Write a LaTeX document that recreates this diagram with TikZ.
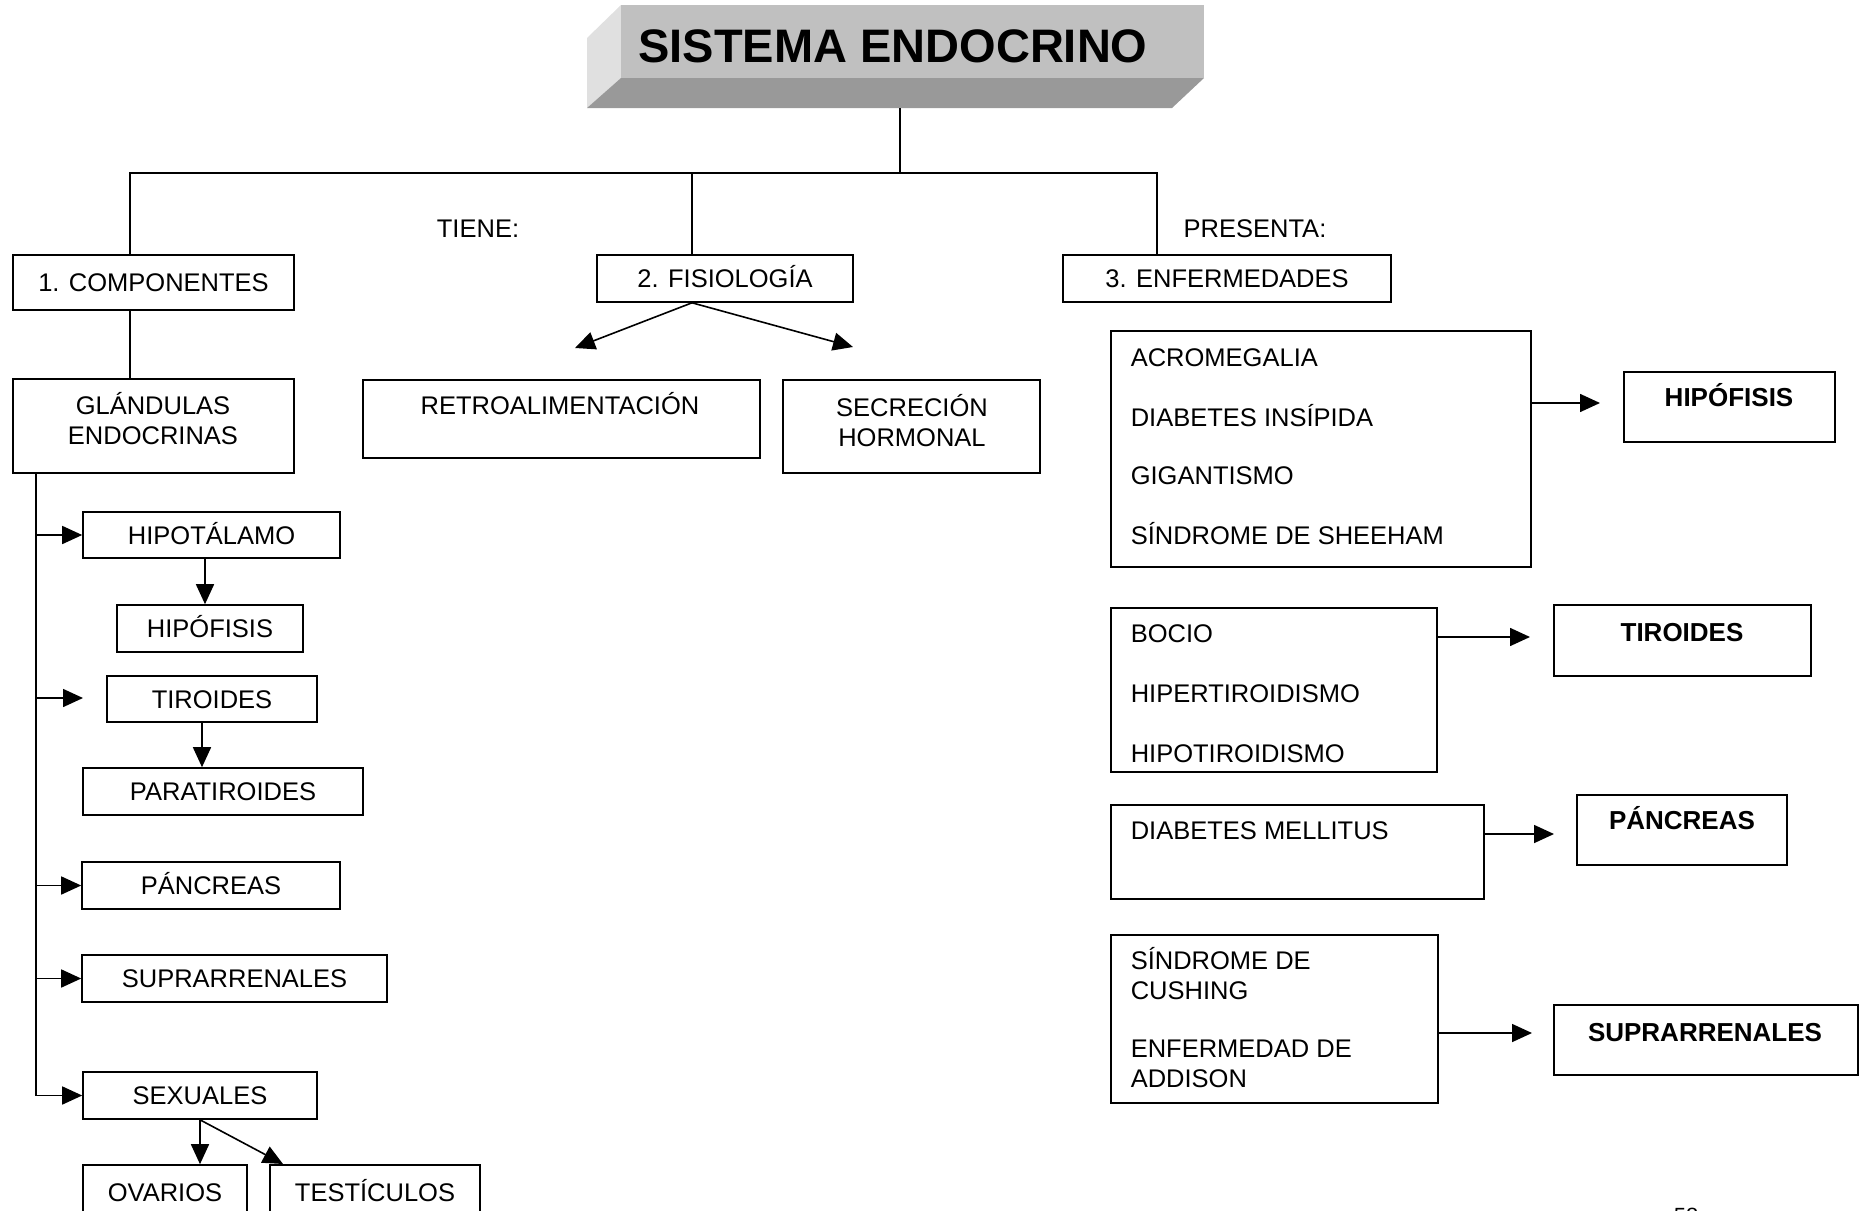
\documentclass[tikz,border=0pt]{standalone}
\usepackage{fontspec}
\setmainfont{Liberation Sans}
\usetikzlibrary{arrows.meta,fit}

\definecolor{faceFront}{HTML}{C0C0C0}
\definecolor{faceSide}{HTML}{E0E0E0}
\definecolor{faceBottom}{HTML}{999999}

% a framed box spanning two corners, with its label centred inside
\newcommand{\labelbox}[4]{%
  \node[box, fit={#2 #3}] (#1) {};
  \node[txt, anchor=base] (#1-t) at ([yshift=-4.5pt]#1.center) {#4};}

\begin{document}
\begin{tikzpicture}[x=0.5pt,y=-0.5pt,
  line width=0.8pt,
  txt/.style={inner sep=0pt, font=\fontsize{12.75}{15}\selectfont},
  boldtxt/.style={inner sep=0pt, font=\fontsize{13}{15}\selectfont\bfseries},
  box/.style={draw, line width=0.8pt, inner sep=0pt},
  arr/.style={-{Triangle[length=10pt,width=9pt]}},
]
\path[use as bounding box] (0,0) rectangle (1868,1210);
\clip (0,0) rectangle (1868,1210);

% ---------- title block (extruded bar) ----------
\fill[faceSide]   (621,5) -- (587,38) -- (587,108) -- (621,78) -- cycle;
\fill[faceBottom] (621,78) -- (1204,78) -- (1172,108) -- (587,108) -- cycle;
\node[fit={(621,5) (1204,78)}, inner sep=0pt, fill=faceFront] (title) {};
\node[inner sep=0pt, anchor=base, font=\fontsize{23.5}{28}\selectfont\bfseries]
  (titletxt) at (893,62) {SISTEMA ENDOCRINO};

% ---------- first level ----------
\labelbox{comp}{(13,255)}{(294,310)}{1. COMPONENTES}
\labelbox{fis}{(597,255)}{(853,302)}{2. FISIOLOGÍA}
\labelbox{enf}{(1063,255)}{(1391,302)}{3. ENFERMEDADES}
\node[txt, anchor=base] (tiene) at (478,237) {TIENE:};
\node[txt, anchor=base] (presenta) at (1255,237) {PRESENTA:};

\coordinate (tb) at (900,108);
\coordinate (j1) at (130,173);
\coordinate (j2) at (692,173);
\coordinate (j3) at (1157,173);
\draw (tb) -- (tb |- j1);
\draw (j1 |- comp.north) -- (j1) -- (j3) -- (j3 |- enf.north);
\draw (j2) -- (j2 |- fis.north);

% ---------- components ----------
\node[box, fit={(13,379) (294,473)}] (gland) {};
\node[txt, align=center] (glandtxt) at (153,419) {GLÁNDULAS\\ENDOCRINAS};
\draw (j1 |- comp.south) -- (j1 |- gland.north);

\labelbox{hipot}{(83,512)}{(340,558)}{HIPOTÁLAMO}
\labelbox{hipof}{(117,605)}{(303,652)}{HIPÓFISIS}
\labelbox{tir}{(107,676)}{(317,722)}{TIROIDES}
\labelbox{para}{(83,768)}{(363,815)}{PARATIROIDES}
\labelbox{panc}{(82,862)}{(340,909)}{PÁNCREAS}
\labelbox{supra}{(82,955)}{(387,1002)}{SUPRARRENALES}
\labelbox{sex}{(83,1072)}{(317,1119)}{SEXUALES}
\node[box, fit={(83,1165) (247,1218)}] (ovar) {};
\node[txt, anchor=base] (ovar-t) at (165,1201) {OVARIOS};
\node[box, fit={(270,1165) (480,1218)}] (test) {};
\node[txt, anchor=base] (test-t) at (375,1201) {TESTÍCULOS};

\coordinate (sp) at (36,473);
\coordinate (tirtip) at (83,698);
\coordinate (hx) at (205,0);
\coordinate (tx) at (202,0);
\coordinate (testtip) at (283,1164);
\draw[arr] (sp) |- (sex.west);
\draw[arr] (sp |- hipot.west) -- (hipot.west);
\draw[arr] (sp |- tirtip) -- (tirtip);
\draw[arr] (sp |- panc.west) -- (panc.west);
\draw[arr] (sp |- supra.west) -- (supra.west);
\draw[arr] (hipot.south -| hx) -- (hipof.north -| hx);
\draw[arr] (tir.south -| tx) -- (para.north -| tx);
\draw[arr] (sex.south) -- (ovar.north -| sex.south);
\draw[arr] (sex.south) -- (testtip);

% ---------- physiology ----------
\node[box, fit={(363,380) (760,458)}] (retro) {};
\node[txt, anchor=base] (retrotxt) at (560,414) {RETROALIMENTACIÓN};
\node[box, fit={(783,380) (1040,473)}] (secr) {};
\node[txt, align=center] (secrtxt) at (912,421) {SECRECIÓN\\HORMONAL};
\coordinate (fL) at (575,348);
\coordinate (fR) at (853,347);
\draw[arr] (j2 |- fis.south) -- (fL);
\draw[arr] (j2 |- fis.south) -- (fR);

% ---------- diseases ----------
\node[box, fit={(1111,331) (1531,567)}] (dA) {};
\node[txt, anchor=base west] (a1) at (1130,366) {ACROMEGALIA};
\node[txt, anchor=base west] (a2) at (1130,426) {DIABETES INSÍPIDA};
\node[txt, anchor=base west] (a3) at (1130,484) {GIGANTISMO};
\node[txt, anchor=base west] (a4) at (1130,544) {SÍNDROME DE SHEEHAM};
\node[box, fit={(1624,372) (1835,442)}] (gA) {};
\node[boldtxt, anchor=base] (gAtxt) at (1729,406) {HIPÓFISIS};
\coordinate (tA) at (1600,403);
\draw[arr] (dA.east |- tA) -- (tA);

\node[box, fit={(1111,608) (1437,772)}] (dB) {};
\node[txt, anchor=base west] (b1) at (1130,642) {BOCIO};
\node[txt, anchor=base west] (b2) at (1130,702) {HIPERTIROIDISMO};
\node[txt, anchor=base west] (b3) at (1130,762) {HIPOTIROIDISMO};
\node[box, fit={(1554,605) (1811,676)}] (gB) {};
\node[boldtxt, anchor=base] (gBtxt) at (1682,641) {TIROIDES};
\coordinate (tB) at (1530,637);
\draw[arr] (dB.east |- tB) -- (tB);

\node[box, fit={(1111,805) (1484,899)}] (dC) {};
\node[txt, anchor=base west] (c1) at (1130,839) {DIABETES MELLITUS};
\node[box, fit={(1577,795) (1787,865)}] (gC) {};
\node[boldtxt, anchor=base] (gCtxt) at (1682,829) {PÁNCREAS};
\coordinate (tC) at (1554,834);
\draw[arr] (dC.east |- tC) -- (tC);

\node[box, fit={(1111,935) (1438,1103)}] (dD) {};
\node[txt, anchor=base west] (d1) at (1130,969) {SÍNDROME DE};
\node[txt, anchor=base west] (d2) at (1130,999) {CUSHING};
\node[txt, anchor=base west] (d3) at (1130,1057) {ENFERMEDAD DE};
\node[txt, anchor=base west] (d4) at (1130,1087) {ADDISON};
\node[box, fit={(1554,1005) (1858,1075)}] (gD) {};
\node[boldtxt, anchor=base] (gDtxt) at (1705,1041) {SUPRARRENALES};
\coordinate (tD) at (1532,1033);
\draw[arr] (dD.east |- tD) -- (tD);

% ---------- page number ----------
\node[inner sep=0pt, anchor=base west, font=\fontsize{11}{13}\selectfont] (pagenum) at (1673,1223) {58};
\end{tikzpicture}
\end{document}
